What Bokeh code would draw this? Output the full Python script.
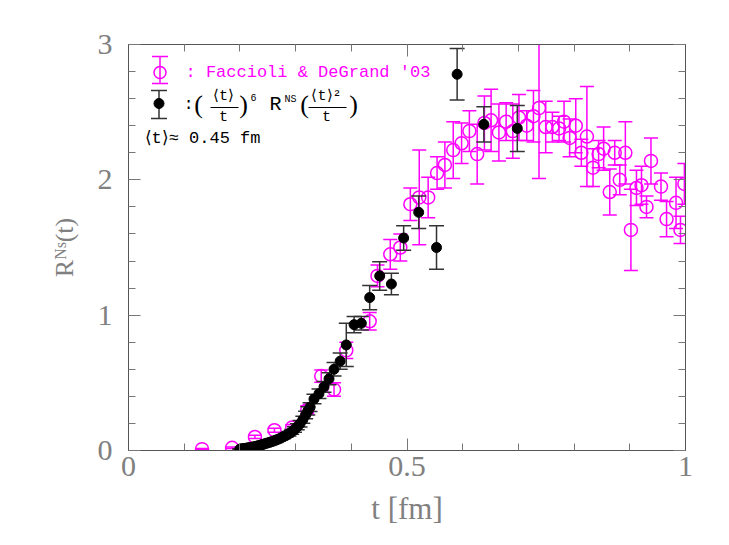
import numpy as np
from bokeh.plotting import figure
from bokeh.models import ColumnDataSource, LinearAxis, FixedTicker, Label, Range1d
from bokeh.embed import file_html
from bokeh.resources import INLINE

# ---------------- data ----------------
# Faccioli & DeGrand '03 (magenta open circles)
fd_t = [0.132, 0.186, 0.227, 0.262, 0.294, 0.321, 0.346, 0.369, 0.391, 0.433,
        0.447, 0.470, 0.488, 0.506, 0.522, 0.538, 0.554, 0.568, 0.583, 0.598,
        0.612, 0.626, 0.639, 0.651, 0.665, 0.678, 0.690, 0.701, 0.715, 0.727,
        0.737, 0.749, 0.761, 0.773, 0.782, 0.792, 0.803, 0.813, 0.823, 0.834,
        0.844, 0.853, 0.864, 0.873, 0.882, 0.892, 0.902, 0.912, 0.921, 0.930,
        0.938, 0.956, 0.966, 0.983, 0.991, 0.998]
fd_r = [0.01, 0.02, 0.10, 0.15, 0.17, 0.30, 0.55, 0.45, 0.74, 0.955,
        1.29, 1.45, 1.50, 1.82, 1.87, 1.87, 2.05, 2.11, 2.22, 2.27,
        2.36, 2.19, 2.42, 2.44, 2.35, 2.43, 2.36, 2.46, 2.40, 2.47,
        2.53, 2.39, 2.39, 2.38, 2.43, 2.31, 2.40, 2.20, 2.32, 2.09,
        2.19, 2.23, 1.91, 2.20, 2.00, 2.20, 1.63, 1.94, 1.96, 1.80,
        2.14, 1.95, 1.71, 1.83, 1.63, 1.97]
fd_err = [0.005, 0.005, 0.012, 0.015, 0.02, 0.03, 0.045, 0.05, 0.06, 0.065,
          0.08, 0.11, 0.10, 0.12, 0.35, 0.15, 0.12, 0.17, 0.21, 0.15,
          0.15, 0.22, 0.20, 0.23, 0.21, 0.14, 0.20, 0.17, 0.11, 0.19,
          0.52, 0.19, 0.11, 0.09, 0.15, 0.14, 0.20, 0.10, 0.37, 0.14,
          0.10, 0.16, 0.17, 0.09, 0.11, 0.23, 0.30, 0.13, 0.14, 0.08,
          0.17, 0.10, 0.13, 0.19, 0.10, 0.15]

# rescaled: (<t>/t)^6 R^NS(<t>^2/t)  (black dots)
rs_t = [0.200, 0.202, 0.204, 0.206, 0.208, 0.210, 0.212, 0.214, 0.216, 0.218,
        0.221, 0.224, 0.227, 0.230, 0.233, 0.236, 0.239, 0.242, 0.245, 0.249,
        0.253, 0.257, 0.261, 0.265, 0.269, 0.273, 0.278, 0.283, 0.288, 0.293,
        0.298, 0.303, 0.308, 0.313, 0.318, 0.322, 0.326, 0.333, 0.342, 0.351,
        0.360, 0.369, 0.380, 0.391, 0.405, 0.418, 0.433, 0.451, 0.472, 0.494,
        0.521, 0.553, 0.590, 0.638, 0.698]
rs_r = [0.010, 0.011, 0.012, 0.013, 0.014, 0.016, 0.017, 0.018, 0.020, 0.021,
        0.024, 0.026, 0.029, 0.032, 0.035, 0.038, 0.042, 0.046, 0.050, 0.055,
        0.060, 0.065, 0.071, 0.077, 0.084, 0.091, 0.101, 0.112, 0.124, 0.138,
        0.155, 0.175, 0.198, 0.228, 0.262, 0.293, 0.32, 0.38, 0.42, 0.47,
        0.53, 0.60, 0.66, 0.78, 0.93, 0.94, 1.13, 1.29, 1.23, 1.57,
        1.76, 1.50, 2.78, 2.41, 2.38]
rs_err = [0.003, 0.003, 0.003, 0.003, 0.003, 0.003, 0.003, 0.003, 0.004, 0.004,
          0.004, 0.004, 0.005, 0.005, 0.005, 0.006, 0.006, 0.007, 0.007, 0.008,
          0.008, 0.009, 0.010, 0.011, 0.012, 0.013, 0.014, 0.015, 0.017, 0.018,
          0.020, 0.022, 0.024, 0.026, 0.028, 0.030, 0.032, 0.035, 0.035, 0.04,
          0.045, 0.05, 0.06, 0.16, 0.06, 0.05, 0.09, 0.105, 0.08, 0.09,
          0.12, 0.16, 0.19, 0.13, 0.17]

x_ticks = [0, 0.5, 1]
x_tick_labels = ["0", "0.5", "1"]
x_minor = [0.1, 0.2, 0.3, 0.4, 0.6, 0.7, 0.8, 0.9]
y_ticks = [0, 1, 2, 3]
y_tick_labels = ["0", "1", "2", "3"]
y_minor = [0.2, 0.4, 0.6, 0.8, 1.2, 1.4, 1.6, 1.8, 2.2, 2.4, 2.6, 2.8]

# ---------------- styling ----------------
MAG = "#ff00ff"
BLK = "#000000"
BAR = "#333333"
AX = "#555555"
TXT = "#808080"
TICK_FONT = "Liberation Serif"
LEG_FONT = "Liberation Mono"

FX0, FX1, FYB, FYT = 128.0, 685.0, 450.0, 44.0
XMIN, XMAX, YMIN, YMAX = 0.0, 1.0, 0.0, 3.0


def dx(px):
    return XMIN + (px - FX0) / (FX1 - FX0) * (XMAX - XMIN)


def dy(py):
    return YMIN + (FYB - py) / (FYB - FYT) * (YMAX - YMIN)


p = figure(frame_width=557, frame_height=406,
           x_range=Range1d(XMIN, XMAX), y_range=Range1d(YMIN, YMAX),
           output_backend="svg", toolbar_location=None,
           x_axis_type=None, y_axis_type=None,
           min_border_left=128, min_border_right=36,
           min_border_top=44, min_border_bottom=86)
p.background_fill_color = "white"
p.border_fill_color = "white"
p.outline_line_color = AX
p.grid.visible = False


def make_axis(ticks, minor, labels, show_labels):
    ax = LinearAxis(ticker=FixedTicker(ticks=ticks, minor_ticks=minor))
    ax.major_label_overrides = {t: (l if show_labels else "") for t, l in zip(ticks, labels)}
    ax.axis_line_color = AX
    ax.major_tick_line_color = "#777777"
    ax.minor_tick_line_color = "#777777"
    ax.major_tick_in = 12
    ax.major_tick_out = 0
    ax.minor_tick_in = 7
    ax.minor_tick_out = 0
    ax.major_label_text_font = TICK_FONT
    ax.major_label_text_font_size = "30px"
    ax.major_label_text_color = TXT
    return ax


xb = make_axis(x_ticks, x_minor, x_tick_labels, True)
xb.major_label_standoff = 6
xb.axis_label = "t [fm]"
xb.axis_label_text_font = TICK_FONT
xb.axis_label_text_font_size = "31px"
xb.axis_label_text_font_style = "normal"
xb.axis_label_text_color = TXT
xb.axis_label_standoff = 12
p.add_layout(xb, "below")

xt = make_axis(x_ticks, x_minor, x_tick_labels, False)
p.add_layout(xt, "above")

yl = make_axis(y_ticks, y_minor, y_tick_labels, True)
yl.major_label_standoff = 16
yl.axis_label = "R\u1d3a\u02e2(t)"
yl.axis_label_text_font = TICK_FONT
yl.axis_label_text_font_size = "26px"
yl.axis_label_text_font_style = "normal"
yl.axis_label_text_color = TXT
yl.axis_label_standoff = 16
p.add_layout(yl, "left")

yr = make_axis(y_ticks, y_minor, y_tick_labels, False)
p.add_layout(yr, "right")

# ---------------- data glyphs ----------------
fd = ColumnDataSource(dict(t=fd_t, r=fd_r,
                           lo=[r - e for r, e in zip(fd_r, fd_err)],
                           hi=[r + e for r, e in zip(fd_r, fd_err)]))
p.segment(x0="t", y0="lo", x1="t", y1="hi", source=fd, line_color=MAG, line_width=1.5)
p.scatter("t", "lo", source=fd, marker="dash", size=14, line_color=MAG, line_width=1.5)
p.scatter("t", "hi", source=fd, marker="dash", size=14, line_color=MAG, line_width=1.5)
p.scatter("t", "r", source=fd, marker="circle", size=13, fill_color=None,
          line_color=MAG, line_width=1.5)

rs = ColumnDataSource(dict(t=rs_t, r=rs_r,
                           lo=[r - e for r, e in zip(rs_r, rs_err)],
                           hi=[r + e for r, e in zip(rs_r, rs_err)]))
p.segment(x0="t", y0="lo", x1="t", y1="hi", source=rs, line_color=BAR, line_width=1.5)
p.scatter("t", "lo", source=rs, marker="dash", size=15, line_color=BAR, line_width=1.5)
p.scatter("t", "hi", source=rs, marker="dash", size=15, line_color=BAR, line_width=1.5)
p.scatter("t", "r", source=rs, marker="circle", size=10, fill_color=BLK, line_color=BLK)

# ---------------- legend (hand-built) ----------------
kx, ky = dx(159.5), dy(72)
p.segment(x0=[kx], y0=[dy(83)], x1=[kx], y1=[dy(56)], line_color=MAG, line_width=1.5)
p.scatter([kx, kx], [dy(83), dy(56)], marker="dash", size=16, line_color=MAG, line_width=1.5)
p.scatter([kx], [ky], marker="circle", size=12, fill_color=None, line_color=MAG, line_width=1.5)
bx, by = dx(158.5), dy(103)
p.segment(x0=[bx], y0=[dy(118)], x1=[bx], y1=[dy(90)], line_color=BAR, line_width=1.5)
p.scatter([bx, bx], [dy(118), dy(90)], marker="dash", size=16, line_color=BAR, line_width=1.5)
p.scatter([bx], [by], marker="circle", size=10, fill_color=BLK, line_color=BLK)


def lab(px, py, text, size, color=BLK, align="left", font=LEG_FONT, baseline="middle"):
    p.add_layout(Label(x=dx(px), y=dy(py), text=text, text_font=font,
                       text_font_size=f"{size}px", text_color=color,
                       text_align=align, text_baseline=baseline))


lab(185, 72, ": Faccioli & DeGrand '03", 17, MAG)

lab(183, 104, ":", 17)
lab(198, 104, "(", 26, align="center", font=TICK_FONT)
lab(223, 96, "\u27e8t\u27e9", 15, align="center")
p.segment(x0=[dx(210)], y0=[dy(107)], x1=[dx(238)], y1=[dy(107)], line_color=BLK, line_width=1.2)
lab(223, 117, "t", 15, align="center")
lab(243, 104, ")", 26, align="center", font=TICK_FONT)
lab(250, 97, "6", 10)
lab(269, 104, "R", 20)
lab(284, 99, "NS", 10)
lab(304, 104, "(", 26, align="center", font=TICK_FONT)
lab(326, 96, "\u27e8t\u27e9\u00b2", 15, align="center")
p.segment(x0=[dx(308)], y0=[dy(107)], x1=[dx(346)], y1=[dy(107)], line_color=BLK, line_width=1.2)
lab(326, 117, "t", 15, align="center")
lab(353, 104, ")", 26, align="center", font=TICK_FONT)

lab(144, 138, "\u27e8t\u27e9\u2248 0.45 fm", 17)

open("out.html", "w").write(file_html(p, INLINE))
